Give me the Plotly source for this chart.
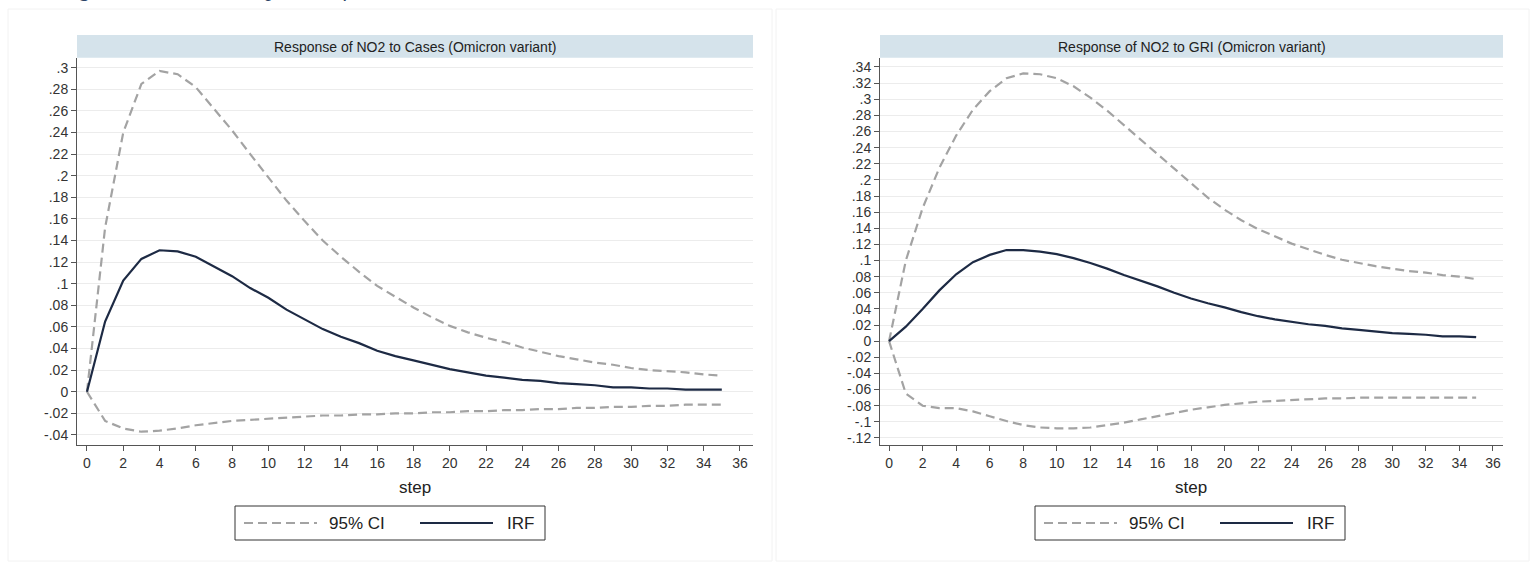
import plotly.graph_objects as go

W, H = 1535, 563

steps = list(range(36))

# Left panel: Response of NO2 to Cases
cases_irf = [0, 0.065, 0.103, 0.123, 0.131, 0.130, 0.125, 0.116, 0.107, 0.096,
             0.087, 0.076, 0.067, 0.058, 0.051, 0.045, 0.038, 0.033, 0.029, 0.025,
             0.021, 0.018, 0.015, 0.013, 0.011, 0.010, 0.008, 0.007, 0.006, 0.004,
             0.004, 0.003, 0.003, 0.002, 0.002, 0.002]
cases_upper = [0, 0.152, 0.240, 0.285, 0.297, 0.294, 0.282, 0.262, 0.242, 0.220,
               0.198, 0.177, 0.158, 0.140, 0.125, 0.111, 0.098, 0.088, 0.078, 0.069,
               0.061, 0.055, 0.050, 0.046, 0.041, 0.037, 0.033, 0.030, 0.027, 0.025,
               0.022, 0.020, 0.019, 0.018, 0.016, 0.015]
cases_lower = [0, -0.027, -0.034, -0.037, -0.036, -0.034, -0.031, -0.029, -0.027, -0.026,
               -0.025, -0.024, -0.023, -0.022, -0.022, -0.021, -0.021, -0.020, -0.020, -0.019,
               -0.019, -0.018, -0.018, -0.017, -0.017, -0.016, -0.016, -0.015, -0.015, -0.014,
               -0.014, -0.013, -0.013, -0.012, -0.012, -0.012]

# Right panel: Response of NO2 to GRI
gri_irf = [0, 0.018, 0.040, 0.063, 0.083, 0.098, 0.107, 0.113, 0.113, 0.111,
           0.108, 0.103, 0.097, 0.090, 0.082, 0.075, 0.068, 0.060, 0.053, 0.047,
           0.042, 0.036, 0.031, 0.027, 0.024, 0.021, 0.019, 0.016, 0.014, 0.012,
           0.010, 0.009, 0.008, 0.006, 0.006, 0.005]
gri_upper = [0, 0.100, 0.165, 0.215, 0.255, 0.287, 0.310, 0.326, 0.332, 0.331,
             0.326, 0.316, 0.302, 0.286, 0.268, 0.250, 0.232, 0.213, 0.195, 0.178,
             0.163, 0.150, 0.139, 0.130, 0.121, 0.114, 0.107, 0.101, 0.097, 0.093,
             0.090, 0.087, 0.085, 0.082, 0.080, 0.077]
gri_lower = [0, -0.065, -0.080, -0.083, -0.083, -0.087, -0.093, -0.099, -0.104, -0.107,
             -0.108, -0.108, -0.107, -0.104, -0.101, -0.097, -0.093, -0.089, -0.085, -0.082,
             -0.079, -0.077, -0.075, -0.074, -0.073, -0.072, -0.071, -0.071, -0.070, -0.070,
             -0.070, -0.070, -0.070, -0.070, -0.070, -0.070]

left_title = "Response of NO2 to Cases (Omicron variant)"
right_title = "Response of NO2 to GRI (Omicron variant)"
x_title = "step"
legend_labels = ["95% CI", "IRF"]
caption = "Figure 8. Estimated responses of NO2"

x_ticks = list(range(0, 37, 2))
left_yticks = [round(-0.04 + 0.02 * i, 2) for i in range(18)]
right_yticks = [round(-0.12 + 0.02 * i, 2) for i in range(24)]


def stata_label(v):
    if abs(v) < 1e-9:
        return "0"
    s = ("%.2f" % v).rstrip("0")
    s = s.replace("0.", ".")
    return s


CI_COLOR = "#a3a3a3"
IRF_COLOR = "#1d2a44"
FONT = "Liberation Sans, Arial, sans-serif"


def px(x):
    return x / W


def py(y):
    return 1 - y / H


fig = go.Figure()

panels = [
    dict(xa="x", ya="y", irf=cases_irf, up=cases_upper, lo=cases_lower),
    dict(xa="x2", ya="y2", irf=gri_irf, up=gri_upper, lo=gri_lower),
]
for p in panels:
    for series in (p["up"], p["lo"]):
        fig.add_trace(go.Scatter(x=steps, y=series, mode="lines", xaxis=p["xa"], yaxis=p["ya"],
                                 line=dict(color=CI_COLOR, width=2.2, dash="9px,5px"),
                                 showlegend=False, hoverinfo="skip"))
    fig.add_trace(go.Scatter(x=steps, y=p["irf"], mode="lines", xaxis=p["xa"], yaxis=p["ya"],
                             line=dict(color=IRF_COLOR, width=2.2), showlegend=False))

ydom = [py(445), py(57.7)]
common_x = dict(tickmode="array", tickvals=x_ticks, ticktext=[str(t) for t in x_ticks],
                ticks="outside", ticklen=5, tickcolor="#555", showline=True, linecolor="#555",
                linewidth=1, showgrid=False, zeroline=False,
                tickfont=dict(family=FONT, size=14, color="#333"))
common_y = dict(tickmode="array", ticks="outside", ticklen=5, tickcolor="#555",
                showline=True, linecolor="#555", linewidth=1, showgrid=True,
                gridcolor="#ececec", gridwidth=1, zeroline=False, domain=ydom,
                tickfont=dict(family=FONT, size=14, color="#333"))

fig.update_layout(
    width=W, height=H, margin=dict(l=0, r=0, t=0, b=0),
    paper_bgcolor="white", plot_bgcolor="white", showlegend=False,
    xaxis=dict(common_x, domain=[px(77), px(753)], range=[-0.55, 36.72], anchor="y"),
    yaxis=dict(common_y, tickvals=left_yticks, ticktext=[stata_label(v) for v in left_yticks],
               range=[-0.0493, 0.3093], anchor="x"),
    xaxis2=dict(common_x, domain=[px(880), px(1503)], range=[-0.54, 36.6], anchor="y2"),
    yaxis2=dict(common_y, tickvals=right_yticks, ticktext=[stata_label(v) for v in right_yticks],
                range=[-0.1287, 0.3515], anchor="x2"),
)

shapes = []
annotations = []

# faint outer panel frames
for x0, x1 in [(8, 772), (776, 1529)]:
    shapes.append(dict(type="rect", xref="paper", yref="paper", x0=px(x0), x1=px(x1),
                       y0=py(561), y1=py(9), line=dict(color="#f2f2f2", width=1),
                       fillcolor="rgba(0,0,0,0)", layer="below"))

# title bands
for (x0, x1, title) in [(77, 753, left_title), (880, 1503, right_title)]:
    shapes.append(dict(type="rect", xref="paper", yref="paper", x0=px(x0), x1=px(x1),
                       y0=py(57.7), y1=py(35), line=dict(width=0), fillcolor="#d5e3eb",
                       layer="below"))
    annotations.append(dict(text=title, xref="paper", yref="paper", x=px((x0 + x1) / 2),
                            y=py(46.5), xanchor="center", yanchor="middle", showarrow=False,
                            font=dict(family=FONT, size=14, color="#222")))

# axis titles
for cx in (415, 1191):
    annotations.append(dict(text=x_title, xref="paper", yref="paper", x=px(cx), y=py(487),
                            xanchor="center", yanchor="middle", showarrow=False,
                            font=dict(family=FONT, size=17, color="#222")))

# legends
for lx in (235, 1035):
    shapes.append(dict(type="rect", xref="paper", yref="paper", x0=px(lx), x1=px(lx + 310),
                       y0=py(540), y1=py(506), line=dict(color="#333", width=1),
                       fillcolor="white"))
    shapes.append(dict(type="line", xref="paper", yref="paper", x0=px(lx + 9), x1=px(lx + 82),
                       y0=py(523), y1=py(523), line=dict(color=CI_COLOR, width=2.2, dash="9px,5px")))
    annotations.append(dict(text=legend_labels[0], xref="paper", yref="paper", x=px(lx + 92),
                            y=py(523), xanchor="left", yanchor="middle", showarrow=False,
                            font=dict(family=FONT, size=17, color="#222")))
    shapes.append(dict(type="line", xref="paper", yref="paper", x0=px(lx + 185), x1=px(lx + 258),
                       y0=py(523), y1=py(523), line=dict(color=IRF_COLOR, width=2.2)))
    annotations.append(dict(text=legend_labels[1], xref="paper", yref="paper", x=px(lx + 270),
                            y=py(523), xanchor="left", yanchor="middle", showarrow=False,
                            font=dict(family=FONT, size=17, color="#222")))

# clipped caption at the very top (only the descenders show, as in the reference)
annotations.append(dict(text="<i>" + caption + "</i>", xref="paper", yref="paper", x=px(58),
                        y=py(3), xanchor="left", yanchor="bottom", showarrow=False,
                        font=dict(family="Liberation Serif, DejaVu Serif, serif", size=22,
                                  color="#2c4466")))

fig.update_layout(shapes=shapes, annotations=annotations)

fig.write_html("out.html")
